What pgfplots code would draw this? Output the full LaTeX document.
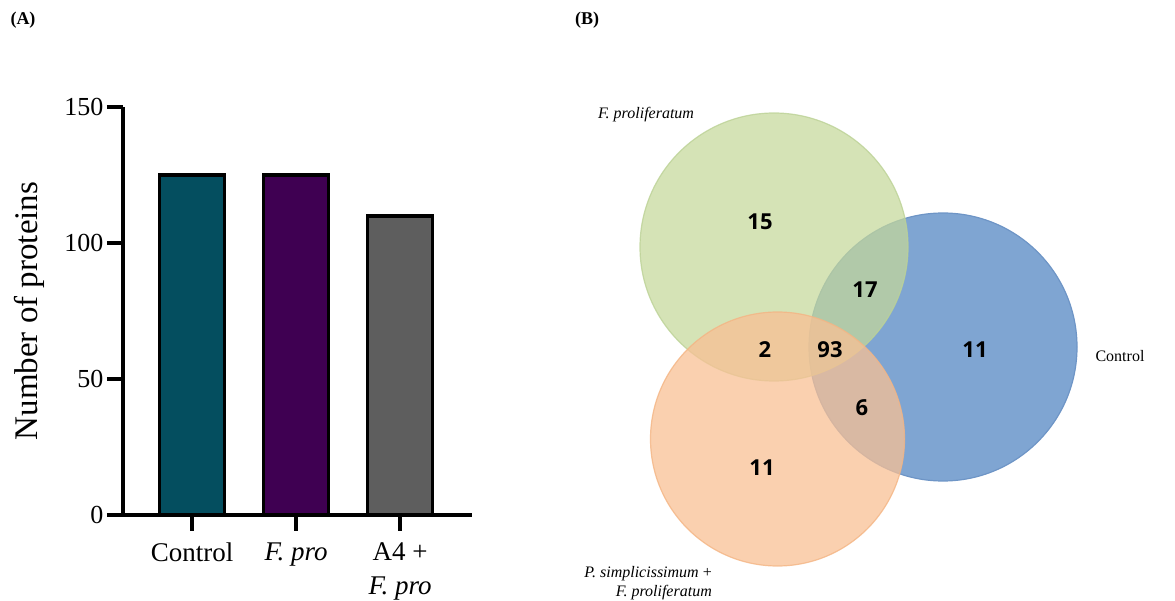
\documentclass[border=0pt]{standalone}
\usepackage{pgfplots}
\pgfplotsset{compat=1.18}
\usepackage{fontspec}
\setmainfont{Liberation Serif}
\newfontfamily\osans{Open Sans}
\definecolor{cteal}{HTML}{044E5F}
\definecolor{cpurple}{HTML}{3F0052}
\definecolor{cgray}{HTML}{5E5E5E}
\definecolor{vblue}{HTML}{7FA5D2}
\definecolor{vblueedge}{HTML}{6E95C6}
\definecolor{vgreen}{HTML}{C5D89A}
\definecolor{vgreenedge}{HTML}{BCD296}
\definecolor{vorange}{HTML}{F8C094}
\definecolor{vorangeedge}{HTML}{F4B584}
\begin{document}
\begin{tikzpicture}
\path[use as bounding box] (0pt,0pt) rectangle (1175pt,601pt);
% ---------------- (A) bar chart
\begin{axis}[
  at={(123pt,86pt)}, anchor=south west,
  scale only axis, width=349pt, height=408pt,
  xmin=-0.663, xmax=2.69, ymin=0, ymax=150,
  axis x line*=bottom, axis y line*=left,
  axis line style={line width=3.5pt, -},
  x axis line style={-}, y axis line style={-},
  tick style={line width=3.5pt, black},
  major tick length=16pt,
  tick align=outside,
  xtick pos=left, ytick pos=left,
  xtick={0,1,2},
  xticklabels={Control,\textit{F. pro},{A4 +\\\textit{F. pro}}},
  ytick={0,50,100,150},
  xticklabel style={align=center, font=\fontsize{27}{34}\selectfont, yshift=-8pt},
  yticklabel style={font=\fontsize{26}{30}\selectfont},
  /pgf/number format/assume math mode=true,
  ylabel={Number of proteins},
  ylabel style={font=\fontsize{33}{38}\selectfont, at={(axis description cs:-0.268,0.5)}, anchor=center},
  ybar, bar width=65pt, clip=false,
]
\addplot[bar shift=0pt, draw=black, line width=3.5pt, fill=cteal] coordinates {(0,125)};
\addplot[bar shift=0pt, draw=black, line width=3.5pt, fill=cpurple] coordinates {(1,125)};
\addplot[bar shift=0pt, draw=black, line width=3.5pt, fill=cgray] coordinates {(2,110)};
\end{axis}
% ---------------- (B) Venn diagram
\begin{axis}[
  at={(0pt,0pt)}, anchor=south west,
  scale only axis, width=1175pt, height=601pt,
  xmin=0, xmax=1175, ymin=0, ymax=601, y dir=reverse,
  hide axis, clip=false,
]
\addplot[only marks, mark=*, mark size=134pt,
  mark options={fill=vblue, draw=vblueedge, line width=1.2pt}] coordinates {(943,347)};
\addplot[only marks, mark=*, mark size=134pt,
  mark options={fill=vgreen, draw=vgreenedge, line width=1.2pt, fill opacity=0.72, draw opacity=0.8}] coordinates {(774,247)};
\addplot[only marks, mark=*, mark size=127pt,
  mark options={fill=vorange, draw=vorangeedge, line width=1.2pt, fill opacity=0.75, draw opacity=0.8}] coordinates {(777.5,439)};
\addplot[only marks, mark=none, point meta=explicit symbolic,
  nodes near coords,
  nodes near coords style={font=\osans\bfseries\fontsize{22}{26}\selectfont, anchor=center, text=black, fill opacity=1, text opacity=1}]
  table[meta=lab] {
x y lab
760 222 15
865 290 17
765 350 2
830 350 93
975 350 11
862 408 6
762 468 11
};
\node[font=\fontsize{16}{19}\selectfont\itshape] at (axis cs:646,115) {F. proliferatum};
\node[font=\fontsize{16}{19}\selectfont] at (axis cs:1120,356) {Control};
\node[font=\fontsize{16}{19}\selectfont, align=right, anchor=east, inner sep=0pt] at (axis cs:712,583) {\textit{P. simplicissimum} +\\\textit{F. proliferatum}};
\node[font=\fontsize{18}{21}\selectfont\bfseries] at (axis cs:23,20) {(A)};
\node[font=\fontsize{18}{21}\selectfont\bfseries] at (axis cs:587,20) {(B)};
\end{axis}
\end{tikzpicture}
\end{document}
